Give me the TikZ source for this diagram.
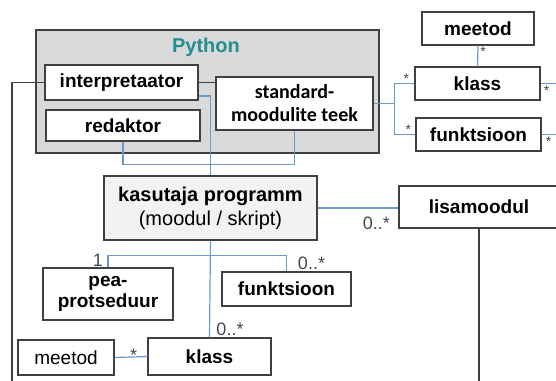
\documentclass[tikz,border=0pt]{standalone}
\usepackage{fontspec}
\setmainfont{Liberation Sans}
\newfontfamily\calibrifont{Carlito}
\usetikzlibrary{calc}
\definecolor{boxline}{HTML}{404040}
\definecolor{pyfill}{HTML}{D9D9D9}
\definecolor{progfill}{HTML}{F2F2F2}
\definecolor{pyteal}{HTML}{238E8E}
\definecolor{linkblue}{HTML}{6A98D0}
\definecolor{multcol}{HTML}{3E4858}

\begin{document}
\begin{tikzpicture}[x=1pt, y=-1pt,
  box/.style={draw=boxline, line width=1.4pt, fill=white, inner sep=0pt,
    align=center, font=\fontsize{19}{22}\selectfont\bfseries},
  plainbox/.style={box, font=\fontsize{19}{22}\selectfont},
  link/.style={draw=linkblue, line width=1.2pt},
  darklink/.style={draw=boxline, line width=1.2pt},
  mult/.style={text=multcol, inner sep=0pt, font=\fontsize{18}{18}\selectfont},
  smallmult/.style={mult, font=\fontsize{14}{14}\selectfont}
]

% ---------- frame ----------
\useasboundingbox (0,0) rectangle (556,380);
\clip (0,0) rectangle (556,380);
\coordinate (rightedge) at (557,0);
\coordinate (bottomedge) at (0,381);

% ---------- Python ----------
\node[draw=boxline, line width=1.6pt, fill=pyfill, inner sep=0pt,
  minimum width=343, minimum height=123] (python) at (207.5,91.5) {};
\node[text=pyteal, font=\fontsize{20}{22}\selectfont\bfseries] (pytitle) at (206,47) {Python};
\node[box, minimum width=153, minimum height=35] (interp) at (121.5,82.5) {interpretaator};
\node[box, minimum width=154, minimum height=31] (redak) at (123,125.5) {redaktor};
\node[box, minimum width=157, minimum height=53, font=\fontsize{20}{23}\selectfont\calibrifont\bfseries]
  (stdlib) at (294.5,103.5) {standard-\\moodulite teek};

% ---------- library side ----------
\node[box, minimum width=112, minimum height=33] (meetodA) at (478,28.5) {meetod};
\node[box, minimum width=125, minimum height=33] (klassA) at (477.5,83.5) {klass};
\node[box, minimum width=125, minimum height=33] (funkA) at (478.5,134.5) {funktsioon};

% ---------- user program ----------
\node[box, fill=progfill, minimum width=213, minimum height=64,
  font=\fontsize{20}{24}\selectfont] (kasut) at (210.5,208)
  {\textbf{kasutaja programm}\\(moodul / skript)};
\node[box, minimum width=160, minimum height=42] (lisa) at (479,207) {lisamoodul};
\node[box, minimum width=130, minimum height=52, font=\fontsize{19}{21.5}\selectfont\bfseries]
  (pea) at (108,294) {pea-\\protseduur};
\node[box, minimum width=129, minimum height=34] (funkB) at (286.5,289) {funktsioon};
\node[box, minimum width=123, minimum height=37] (klassB) at (209.5,356.5) {klass};
\node[plainbox, minimum width=96, minimum height=35] (meetodB) at (66,357.5) {meetod};

% ---------- dark connectors ----------
\coordinate (leftfoot) at (12,381);
\draw[darklink] (interp.west) -| (leftfoot);
\draw[darklink] (interp.east) -- (interp.east -| stdlib.west);
\draw[darklink] (lisa.south) -- (lisa.south |- bottomedge);

% ---------- blue connectors ----------
\draw[link] ([yshift=-13.5pt]interp.east) -| (kasut.north);
\draw[link] (redak.south) -- ++(0,23) -| (stdlib.south);
\draw[link] (stdlib.east) -- ++(21,0) coordinate (libfork) |- (klassA.west);
\draw[link] (libfork) |- (funkA.west);
\draw[link] (meetodA.south) -- (klassA.north);
\draw[link] (klassA.east) -- (klassA.east -| rightedge);
\draw[link] (funkA.east) -- (funkA.east -| rightedge);
\draw[link] (kasut.east) -- (kasut.east -| lisa.west);
\draw[link] (kasut.south) -- (klassB.north);
\draw[link] (kasut.south) ++(0,15) coordinate (progfork) -| (pea.north);
\draw[link] (progfork) -| (funkB.north);
\draw[link] (meetodB.east) -- (klassB.west);

% ---------- multiplicities ----------
\node[smallmult] (mKlassA) at ([shift={(-8,-5)}]klassA.west) {*};
\node[smallmult] (mFunkA) at ([shift={(-7,-5)}]funkA.west) {*};
\node[smallmult] (mMeetodA) at ([shift={(5,6)}]meetodA.south) {*};
\node[smallmult] (mKlassOut) at ([shift={(6,7)}]klassA.east) {*};
\node[smallmult] (mFunkOut) at ([shift={(7,7)}]funkA.east) {*};
\node[mult] (mLisa) at ([shift={(-22,16)}]lisa.west) {0..*};
\node[mult] (mPea) at ([shift={(-10,-7)}]pea.north) {1};
\node[mult] (mFunkB) at ([shift={(25,-8)}]funkB.north) {0..*};
\node[mult] (mKlassB) at ([shift={(20.5,-8)}]klassB.north) {0..*};
\node[mult] (mMeetodB) at ([shift={(19,-2)}]meetodB.east) {*};

\end{tikzpicture}
\end{document}
